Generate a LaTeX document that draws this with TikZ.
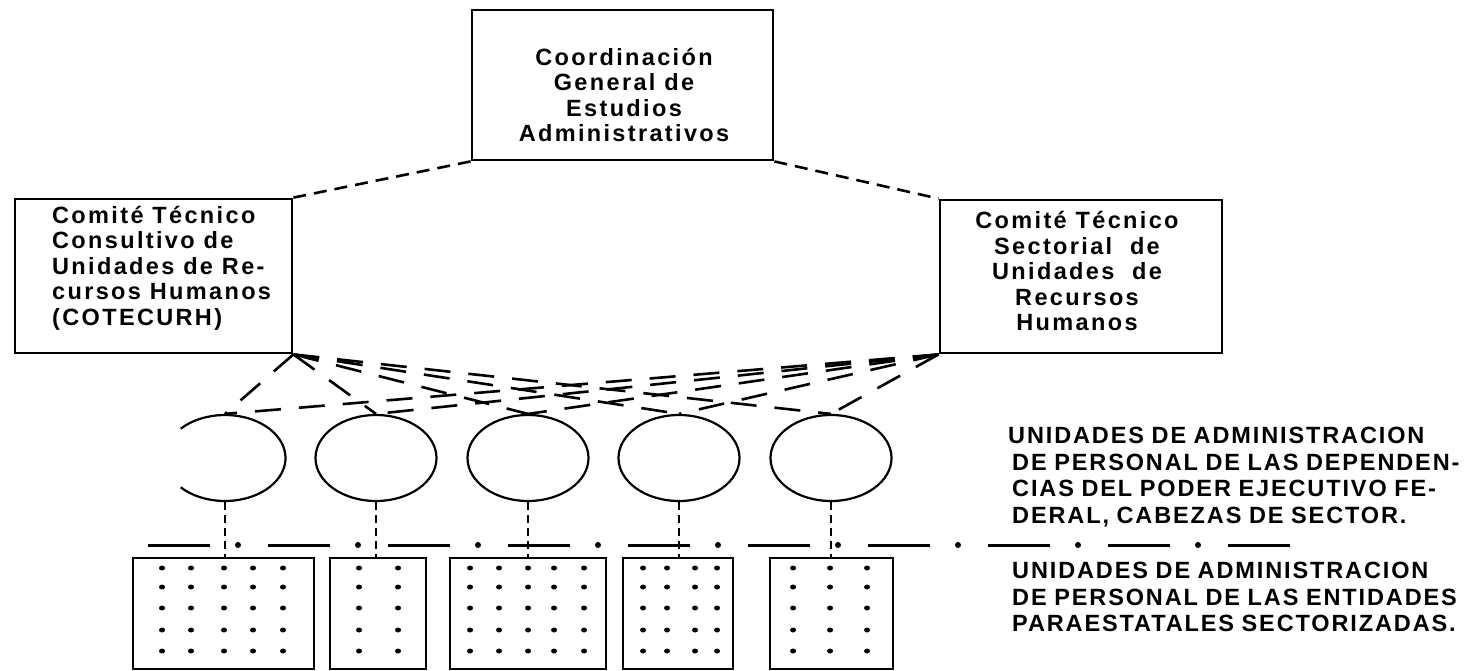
\documentclass[tikz,border=0pt]{standalone}
\usepackage{fontspec}
\setmainfont{Liberation Sans}
\newfontfamily\lbl{Liberation Sans}[UprightFont={* Bold}, LetterSpace=10]
\newfontfamily\side{Liberation Sans}[UprightFont={* Bold}, LetterSpace=8, WordSpace=0.9]
\usetikzlibrary{shapes.geometric}
\begin{document}
\begin{tikzpicture}[x=1pt,y=-1pt,
 box/.style={draw, line width=2.8pt, rectangle, inner sep=0pt},
 oval/.style={ellipse, draw, line width=2.2pt, minimum width=121pt, minimum height=86pt, inner sep=0pt},
 topdash/.style={line width=2.6pt, dash pattern=on 13pt off 8pt},
 fandash/.style={line width=2.6pt, dash pattern=on 26pt off 18pt},
 vdash/.style={line width=2.8pt, dash pattern=on 8pt off 5pt},
 dashdot/.style={line width=3pt},
 boxtxt/.style={font=\lbl\fontsize{23.5}{25.5}\selectfont, inner sep=0pt},
 sidetxt/.style={font=\side\fontsize{23.5}{26.7}\selectfont, inner sep=0pt, align=left, anchor=west}
]
\useasboundingbox (0,0) rectangle (1471,671);

% upper boxes
\node[box, minimum width=301pt, minimum height=150pt] (cg) at (622.5,85) {};
\node[boxtxt, align=center] (cgt) at (624,95) {Coordinación\\General de\\Estudios\\Administrativos};

\node[box, minimum width=277pt, minimum height=154pt] (ctc) at (153.5,276) {};
\node[boxtxt, align=left, anchor=west] (ctct) at (52,268) {Comité Técnico\\Consultivo de\\Unidades de Re-\\cursos Humanos\\(COTECURH)};

\node[box, minimum width=282pt, minimum height=153pt] (cts) at (1081,276.5) {};
\node[boxtxt, align=center] (ctst) at (1077,271) {Comité Técnico\\Sectorial\ \ de\\Unidades\ \ de\\Recursos\\Humanos};

\draw[topdash] (cg.south west) -- (ctc.north east);
\draw[topdash] (cg.south east) -- (cts.north west);

% ovals
\node[oval, draw=none] (e1) at (225,458) {};
\draw[line width=2.2pt] (e1.center) ++(-137:60.5 and 43) arc[start angle=-137, end angle=137, x radius=60.5, y radius=43];
\node[oval] (e2) at (376,458) {};
\node[oval] (e3) at (528,458) {};
\node[oval] (e4) at (679,458) {};
\node[oval] (e5) at (831,458) {};

\foreach \i in {1,...,5}{
  \draw[fandash] (ctc.south east) -- (e\i.north);
  \draw[fandash] (cts.south west) -- (e\i.north);
}

% lower boxes
\node[box, minimum width=181pt, minimum height=111pt] (b1) at (223.5,613.5) {};
\node[box, minimum width=96pt, minimum height=111pt] (b2) at (378,613.5) {};
\node[box, minimum width=156pt, minimum height=111pt] (b3) at (528,613.5) {};
\node[box, minimum width=110pt, minimum height=111pt] (b4) at (678,613.5) {};
\node[box, minimum width=123pt, minimum height=111pt] (b5) at (831.5,613.5) {};

\foreach \i in {1,...,5}{
  \draw[vdash] (e\i.south) -- (e\i.south |- b\i.north);
}

% dots
\foreach \y in {568,587,608,630,651}{
  \foreach \x in {162,191,224,253,283, 359,398, 470,499,528,554,584, 643,667,695,717, 793,830,867}{
    \fill (\x,\y) ellipse [x radius=3pt, y radius=2.5pt];
  }
}

% dash-dot separator
\foreach \k in {0,...,9}{
  \draw[dashdot] (148+120*\k,545) -- (210+120*\k,545);
}
\foreach \k in {0,...,8}{
  \fill (238+120*\k,545) circle (3pt);
}

% side labels
\node[sidetxt] (l1) at (1012,477) {\hspace*{-4pt}UNIDADES DE ADMINISTRACION\\DE PERSONAL DE LAS DEPENDEN-\\CIAS DEL PODER EJECUTIVO FE-\\DERAL, CABEZAS DE SECTOR.};
\node[sidetxt] (l2) at (1012,597) {UNIDADES DE ADMINISTRACION\\DE PERSONAL DE LAS ENTIDADES\\PARAESTATALES SECTORIZADAS.};
\end{tikzpicture}
\end{document}
